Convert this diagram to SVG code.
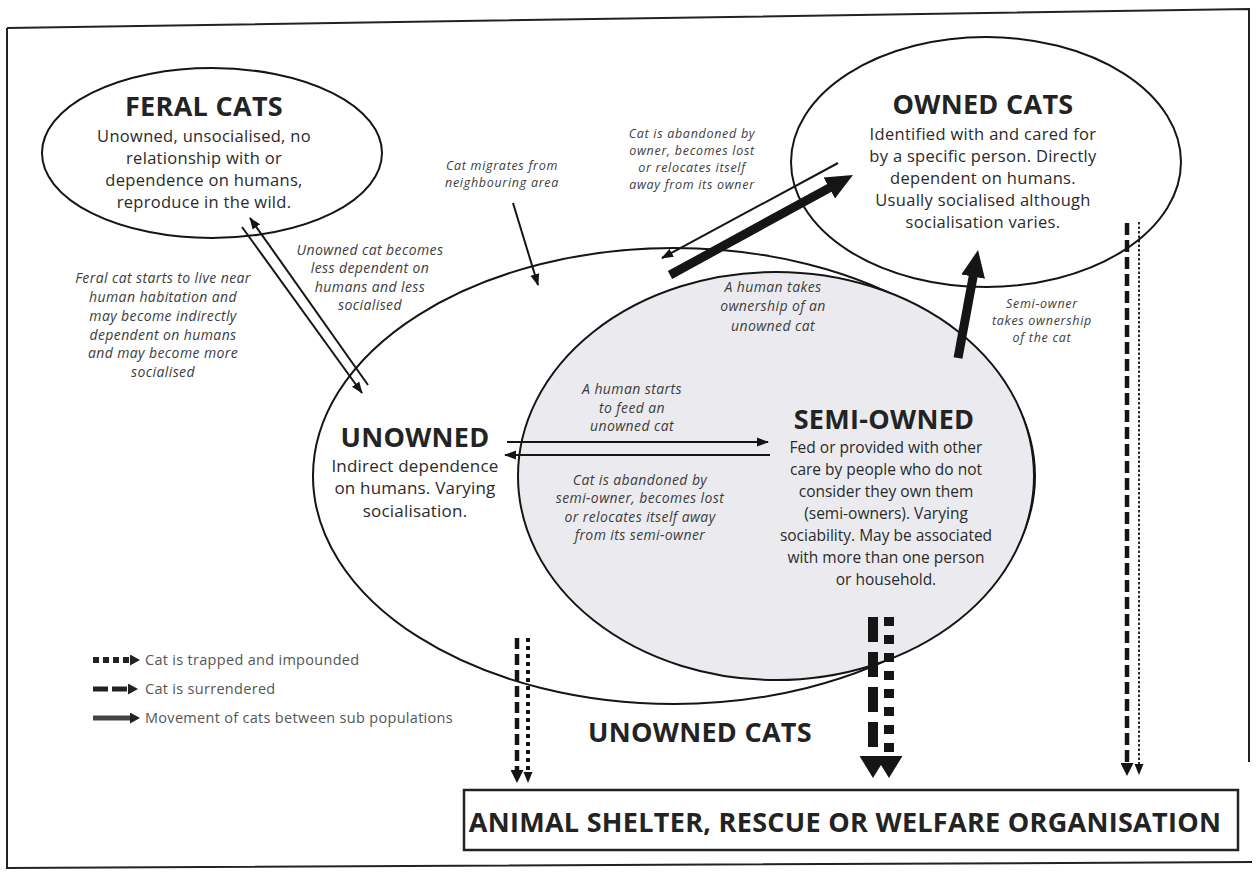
<svg xmlns="http://www.w3.org/2000/svg" width="1258" height="873" viewBox="0 0 1258 873">
<defs>
<style>
.ttl{font-family:"Open Sans","Liberation Sans",sans-serif;font-weight:700;fill:#232323;text-anchor:middle;font-size:27px;letter-spacing:0.3px}
.body{font-family:"Open Sans","Liberation Sans",sans-serif;fill:#2a2a2a;text-anchor:middle}
.lbl{font-family:"Open Sans","Liberation Sans",sans-serif;font-style:italic;fill:#3c3c3c;text-anchor:middle;font-size:14px;letter-spacing:0.4px}
.sm{font-size:12.5px;letter-spacing:0.7px}
.leg{font-family:"Open Sans","Liberation Sans",sans-serif;fill:#555;font-size:14.5px;letter-spacing:0.3px}
.ell{fill:#fff;stroke:#151515;stroke-width:2}
.thin{stroke:#151515;stroke-width:2;fill:none;marker-end:url(#ah)}
.thick{stroke:#151515;fill:none;stroke-width:9;marker-end:url(#big)}
</style>
<marker id="ah" markerUnits="userSpaceOnUse" markerWidth="12" markerHeight="10" refX="11" refY="5" orient="auto"><path d="M0,0.5 L12,5 L0,9.5z" fill="#151515"/></marker>
<marker id="big" markerUnits="userSpaceOnUse" markerWidth="28" markerHeight="26" refX="7" refY="13" orient="auto"><path d="M0,1 L27,13 L0,25z" fill="#151515"/></marker>
<marker id="dh" markerUnits="userSpaceOnUse" markerWidth="13" markerHeight="13" refX="0" refY="6.5" orient="auto"><path d="M0,0 L13,6.5 L0,13z" fill="#151515"/></marker>
<marker id="dhs" markerUnits="userSpaceOnUse" markerWidth="11" markerHeight="10" refX="0" refY="5" orient="auto"><path d="M0,0.5 L11,5 L0,9.5z" fill="#151515"/></marker>
<marker id="dbig" markerUnits="userSpaceOnUse" markerWidth="22" markerHeight="28" refX="0" refY="14" orient="auto"><path d="M0,0.5 L22,14 L0,27.5z" fill="#151515"/></marker>
<marker id="lh" markerUnits="userSpaceOnUse" markerWidth="10" markerHeight="11" refX="0" refY="5.5" orient="auto"><path d="M0,0 L10,5.5 L0,11z" fill="#222"/></marker>
</defs>
<rect width="1258" height="873" fill="#fff"/>
<path d="M7,28 L1249,9 L1249,762 M7,28 L7,868 L1252,862" fill="none" stroke="#222" stroke-width="2"/>

<g id="unowned-cats">
<ellipse class="ell" cx="674" cy="476" rx="361" ry="228"/>
<text class="ttl" x="700" y="742">UNOWNED CATS</text>
</g>
<g id="semi-owned">
<ellipse cx="776" cy="476" rx="258" ry="204" fill="#ebebef" stroke="#151515" stroke-width="2"/>
<text class="ttl" x="884" y="429">SEMI-OWNED</text>
<text class="body" font-size="15.5"><tspan x="886" y="453">Fed or provided with other</tspan><tspan x="886" y="475">care by people who do not</tspan><tspan x="886" y="497">consider they own them</tspan><tspan x="886" y="519">(semi-owners). Varying</tspan><tspan x="886" y="541">sociability. May be associated</tspan><tspan x="886" y="563">with more than one person</tspan><tspan x="886" y="585">or household.</tspan></text>
</g>
<g id="unowned">
<text class="ttl" x="415" y="447">UNOWNED</text>
<text class="body" font-size="17" letter-spacing="0.2"><tspan x="415" y="472">Indirect dependence</tspan><tspan x="415" y="494">on humans. Varying</tspan><tspan x="415" y="517">socialisation.</tspan></text>
</g>
<g id="feral-cats">
<ellipse class="ell" cx="212" cy="153" rx="170" ry="85"/>
<text class="ttl" x="204" y="116">FERAL CATS</text>
<text class="body" font-size="16.5" letter-spacing="0.3"><tspan x="204" y="142">Unowned, unsocialised, no</tspan><tspan x="204" y="164">relationship with or</tspan><tspan x="204" y="186">dependence on humans,</tspan><tspan x="204" y="208">reproduce in the wild.</tspan></text>
</g>
<g id="owned-cats">
<ellipse class="ell" cx="986" cy="162" rx="195" ry="125"/>
<text class="ttl" x="983" y="114">OWNED CATS</text>
<text class="body" font-size="16.5" letter-spacing="0.3"><tspan x="983" y="140">Identified with and cared for</tspan><tspan x="983" y="162">by a specific person. Directly</tspan><tspan x="983" y="184">dependent on humans.</tspan><tspan x="983" y="206">Usually socialised although</tspan><tspan x="983" y="228">socialisation varies.</tspan></text>
</g>
<g id="shelter">
<rect x="464" y="790" width="774" height="60" fill="#fff" stroke="#222" stroke-width="2.5"/>
<text class="ttl" x="845" y="832" font-weight="600" letter-spacing="0.2">ANIMAL SHELTER, RESCUE OR WELFARE ORGANISATION</text>
</g>

<g id="connectors">
<line class="thin" x1="242" y1="227" x2="362" y2="393"/>
<line class="thin" x1="368" y1="385" x2="250" y2="218"/>
<line class="thin" x1="513" y1="203" x2="538" y2="285"/>
<line class="thin" x1="838" y1="163" x2="662" y2="258"/>
<line class="thin" x1="507" y1="442" x2="768" y2="442" stroke-width="2.5"/>
<line class="thin" x1="770" y1="455" x2="505" y2="455" stroke-width="2.5"/>
<line class="thick" x1="670" y1="275" x2="835.4" y2="184.6"/>
<line class="thick" x1="958" y1="358" x2="974.4" y2="269.7"/>
<line x1="517" y1="638" x2="517" y2="770" stroke="#151515" stroke-width="4.5" stroke-dasharray="11 5" marker-end="url(#dh)"/>
<line x1="528" y1="638" x2="528" y2="772" stroke="#151515" stroke-width="4" stroke-dasharray="4 4" marker-end="url(#dhs)"/>
<line x1="873" y1="617" x2="873" y2="756" stroke="#151515" stroke-width="10" stroke-dasharray="25 10" marker-end="url(#dbig)"/>
<line x1="889" y1="617" x2="889" y2="756" stroke="#151515" stroke-width="10" stroke-dasharray="9 9" marker-end="url(#dbig)"/>
<line x1="1127" y1="223" x2="1127" y2="763" stroke="#151515" stroke-width="4.5" stroke-dasharray="12 5" marker-end="url(#dh)"/>
<line x1="1139" y1="222" x2="1139" y2="764" stroke="#151515" stroke-width="1.8" stroke-dasharray="2.5 2" marker-end="url(#dhs)"/>
</g>

<g id="labels">
<text class="lbl" letter-spacing="0.3"><tspan x="163" y="283">Feral cat starts to  live near</tspan><tspan x="163" y="302">human  habitation and</tspan><tspan x="163" y="321">may  become indirectly</tspan><tspan x="163" y="340">dependent on  humans</tspan><tspan x="163" y="358">and may  become more</tspan><tspan x="163" y="377">socialised</tspan></text>
<text class="lbl" font-size="14.5" letter-spacing="0.5"><tspan x="370" y="255">Unowned cat becomes</tspan><tspan x="370" y="273">less dependent on</tspan><tspan x="370" y="292">humans and less</tspan><tspan x="370" y="310">socialised</tspan></text>
<text class="lbl sm"><tspan x="502" y="170">Cat migrates from</tspan><tspan x="502" y="187">neighbouring area</tspan></text>
<text class="lbl sm"><tspan x="692" y="138">Cat is abandoned by</tspan><tspan x="692" y="155">owner, becomes lost</tspan><tspan x="692" y="172">or relocates itself</tspan><tspan x="692" y="189">away from its owner</tspan></text>
<text class="lbl" font-size="14.5" letter-spacing="0.5"><tspan x="773" y="292">A human takes</tspan><tspan x="773" y="311">ownership of an</tspan><tspan x="773" y="331">unowned cat</tspan></text>
<text class="lbl" font-size="16" letter-spacing="0.5"><tspan x="632" y="394">A human starts</tspan><tspan x="632" y="413">to feed an</tspan><tspan x="632" y="431">unowned cat</tspan></text>
<text class="lbl" font-size="16" letter-spacing="0.5"><tspan x="640" y="485">Cat is abandoned  by</tspan><tspan x="640" y="503">semi-owner,  becomes lost</tspan><tspan x="640" y="522">or  relocates itself  away</tspan><tspan x="640" y="540">from its  semi-owner</tspan></text>
<text class="lbl sm"><tspan x="1042" y="308">Semi-owner</tspan><tspan x="1042" y="325">takes ownership</tspan><tspan x="1042" y="342">of  the cat</tspan></text>
</g>

<g id="legend">
<line x1="93" y1="660" x2="130" y2="660" stroke="#222" stroke-width="6" stroke-dasharray="6 4" marker-end="url(#lh)"/>
<line x1="93" y1="689" x2="128" y2="689" stroke="#222" stroke-width="5" stroke-dasharray="15 4" marker-end="url(#lh)"/>
<line x1="93" y1="718" x2="130" y2="718" stroke="#444" stroke-width="5" marker-end="url(#lh)"/>
<text class="leg" x="145" y="665">Cat is trapped and impounded</text>
<text class="leg" x="145" y="694">Cat is surrendered</text>
<text class="leg" x="145" y="723">Movement of cats between sub populations</text>
</g>
</svg>
